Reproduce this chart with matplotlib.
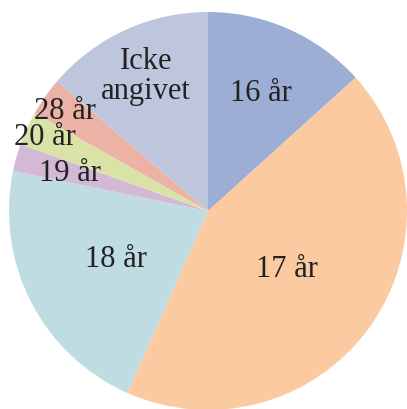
import matplotlib
matplotlib.use("Agg")
import matplotlib.pyplot as plt
import numpy as np

labels = ["16 år", "17 år", "18 år", "19 år", "20 år", "28 år", "Icke\nangivet"]
values = [13.3, 43.3, 21.6, 2.2, 2.75, 3.1, 13.7]
colors = ["#9DAED4", "#FBCAA0", "#BEDCE2", "#D4B9D6", "#D9E3A8", "#EDB2A6", "#BEC6DE"]
label_dist = [0.65, 0.49, 0.52, 0.72, 0.90, 0.88, 0.75]

fig = plt.figure(figsize=(4.07, 4.10), dpi=100)
ax = fig.add_axes([0, 0, 1, 1])
wedges, texts = ax.pie(values, colors=colors, startangle=90, counterclock=False,
                       labels=labels, labeldistance=0.6,
                       wedgeprops=dict(linewidth=0),
                       textprops=dict(fontsize=22, family="Liberation Serif",
                                      color="#222222", ha="center", va="center"))
for w, t, d in zip(wedges, texts, label_dist):
    ang = np.deg2rad((w.theta1 + w.theta2) / 2)
    t.set_position((d * np.cos(ang), d * np.sin(ang)))
    t.set_ha("center")
    t.set_va("center")
    t.set_linespacing(1.05)

ax.set_aspect("auto")
ax.set_xlim(-208 / 199, (407 - 208) / 199)
ax.set_ylim(-198 / 199, 212 / 199)
ax.axis("off")
fig.savefig("out.png", dpi=100)
